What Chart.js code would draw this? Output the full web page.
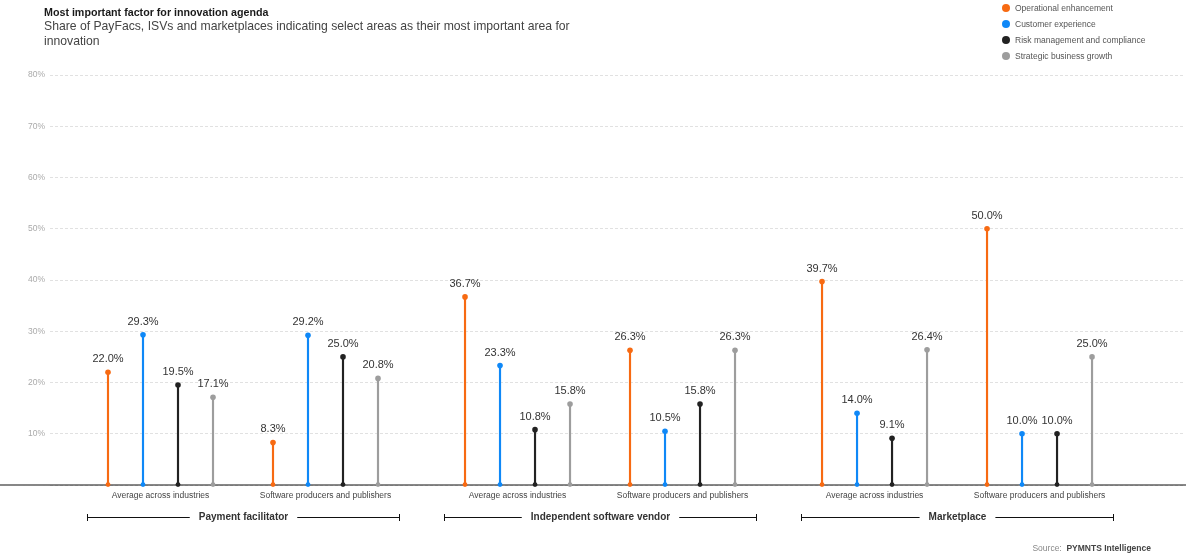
<!DOCTYPE html>
<html>
<head>
<meta charset="utf-8">
<script src="https://cdn.jsdelivr.net/npm/chart.js@4.4.1/dist/chart.umd.min.js"></script>
<style>
  html, body { margin:0; padding:0; background:#fff; }
  body { width:1186px; height:556px; position:relative; overflow:hidden; font-family:"Liberation Sans", Arial, sans-serif; }
  #wrap { position:absolute; left:0; top:0; width:1186px; height:556px; }
  .title { position:absolute; left:44px; top:5px; font-size:10.7px; font-weight:bold; color:#1a1a1a; line-height:15px; }
  .subtitle { position:absolute; left:44px; top:19px; width:545px; font-size:12.2px; color:#444; line-height:15px; }
  .legend { position:absolute; left:1002px; top:0px; font-size:8.5px; color:#555; }
  .legend div { height:16px; line-height:16px; white-space:nowrap; }
  .legend span.dot { display:inline-block; width:8px; height:8px; border-radius:50%; vertical-align:middle; margin-right:5px; position:relative; top:-1px; }
  .source { position:absolute; right:35px; top:543px; font-size:8.5px; color:#888; }
  .source b { color:#444; }
</style>
</head>
<body>
<div id="wrap"><canvas id="c" width="1186" height="556"></canvas></div>
<div class="title">Most important factor for innovation agenda</div>
<div class="subtitle">Share of PayFacs, ISVs and marketplaces indicating select areas as their most important area for innovation</div>
<div class="legend" id="legend"></div>
<div class="source">Source:&nbsp; <b>PYMNTS Intelligence</b></div>
<script>
// ---- data ----
const GROUPS = ["Payment facilitator", "Independent software vendor", "Marketplace"];
const CATEGORIES = ["Average across industries", "Software producers and publishers"];
const SERIES = ["Operational enhancement", "Customer experience", "Risk management and compliance", "Strategic business growth"];
const OPERATIONAL = [22.0, 8.3, 36.7, 26.3, 39.7, 50.0];
const CUSTOMER    = [29.3, 29.2, 23.3, 10.5, 14.0, 10.0];
const RISK        = [19.5, 25.0, 10.8, 15.8, 9.1, 10.0];
const STRATEGIC   = [17.1, 20.8, 15.8, 26.3, 26.4, 25.0];
const Y_TICKS = [10, 20, 30, 40, 50, 60, 70, 80];

// ---- style / layout ----
const VALUES = [OPERATIONAL, CUSTOMER, RISK, STRATEGIC];
const COLORS = ["#f76a12", "#0f88f7", "#222222", "#9d9d9d"];
const SERIES_STEP = 1, CAT_STEP = 4.714, GROUP_STEP = 10.2;
const X_MIN = -1.657, X_MAX = 30.77;
const FONT = '"Liberation Sans", Arial, sans-serif';

function xPos(i, s) {
  const g = Math.floor(i / CATEGORIES.length), c = i % CATEGORIES.length;
  return g * GROUP_STEP + c * CAT_STEP + s * SERIES_STEP;
}
const clusterCenters = [];
for (let i = 0; i < GROUPS.length * CATEGORIES.length; i++) clusterCenters.push(xPos(i, (SERIES.length - 1) / 2));

// legend
const lg = document.getElementById('legend');
SERIES.forEach((n, s) => {
  const d = document.createElement('div');
  d.innerHTML = '<span class="dot" style="background:' + COLORS[s] + '"></span>' + n;
  lg.appendChild(d);
});

const lollipop = {
  id: 'lollipop',
  beforeDatasetsDraw(chart) {
    const { ctx, chartArea } = chart;
    ctx.save();
    ctx.strokeStyle = '#111';
    ctx.lineWidth = 1.2;
    ctx.beginPath();
    ctx.moveTo(0, chartArea.bottom);
    ctx.lineTo(chart.width, chartArea.bottom);
    ctx.stroke();
    ctx.restore();
  },
  afterDatasetsDraw(chart) {
    const { ctx } = chart;
    ctx.save();
    chart.data.datasets.forEach((ds, di) => {
      const meta = chart.getDatasetMeta(di);
      meta.data.forEach((el, i) => {
        ctx.fillStyle = COLORS[di];
        ctx.beginPath(); ctx.arc(el.x, el.y, 2.8, 0, Math.PI * 2); ctx.fill();
        ctx.beginPath(); ctx.arc(el.x, el.base, 2.4, 0, Math.PI * 2); ctx.fill();
        ctx.fillStyle = '#333';
        ctx.font = '11px ' + FONT;
        ctx.textAlign = 'center';
        ctx.textBaseline = 'middle';
        ctx.fillText(ds.data[i].y.toFixed(1) + '%', el.x, el.y - 13);
      });
    });
    ctx.restore();
  },
  afterDraw(chart) {
    const { ctx } = chart;
    const xs = chart.scales.x;
    const y = 517, ext = 0.6;
    ctx.save();
    ctx.font = 'bold 10px ' + FONT;
    ctx.textAlign = 'center';
    ctx.textBaseline = 'middle';
    ctx.strokeStyle = '#111';
    ctx.lineWidth = 1;
    GROUPS.forEach((g, gi) => {
      const first = gi * CATEGORIES.length, last = first + CATEGORIES.length - 1;
      const l = Math.round(xs.getPixelForValue(xPos(first, 0) - ext)) + 0.5;
      const r = Math.round(xs.getPixelForValue(xPos(last, SERIES.length - 1) + ext)) + 0.5;
      const m = (l + r) / 2;
      const w = ctx.measureText(g).width / 2 + 9;
      ctx.beginPath();
      ctx.moveTo(l, y + 0.5); ctx.lineTo(m - w, y + 0.5);
      ctx.moveTo(m + w, y + 0.5); ctx.lineTo(r, y + 0.5);
      ctx.moveTo(l, y - 3); ctx.lineTo(l, y + 4);
      ctx.moveTo(r, y - 3); ctx.lineTo(r, y + 4);
      ctx.stroke();
      ctx.fillStyle = '#333';
      ctx.fillText(g, m, y);
    });
    ctx.restore();
  }
};

new Chart(document.getElementById('c'), {
  type: 'bar',
  data: {
    datasets: SERIES.map((name, s) => ({
      label: name,
      data: VALUES[s].map((v, i) => ({ x: xPos(i, s), y: v })),
      backgroundColor: COLORS[s],
      barThickness: 1.5,
      grouped: false
    }))
  },
  options: {
    responsive: false,
    animation: false,
    layout: { padding: { top: 75, right: 1, left: 0, bottom: 0 } },
    scales: {
      x: {
        type: 'linear', min: X_MIN, max: X_MAX, offset: false,
        grid: { display: false, drawTicks: false, offset: false },
        border: { display: false },
        afterBuildTicks: axis => { axis.ticks = clusterCenters.map(v => ({ value: v })); },
        afterFit: s => { s.height = 71; },
        ticks: {
          autoSkip: false, maxRotation: 0, padding: 6,
          color: '#444', font: { family: FONT, size: 8.5 },
          callback: (v, i) => CATEGORIES[i % CATEGORIES.length]
        }
      },
      y: {
        min: 0, max: 80,
        afterBuildTicks: axis => { axis.ticks = [0].concat(Y_TICKS).map(v => ({ value: v })); },
        afterFit: s => { s.width = 50; },
        grid: { color: '#d9d9d9', drawTicks: false, lineWidth: 0.8 },
        border: { display: false, dash: [3, 2] },
        ticks: {
          padding: 5, color: '#aaa', font: { family: FONT, size: 8.5 },
          callback: v => v === 0 ? '' : v + '%'
        }
      }
    },
    plugins: { legend: { display: false }, tooltip: { enabled: false } }
  },
  plugins: [lollipop]
});
</script>
</body>
</html>
